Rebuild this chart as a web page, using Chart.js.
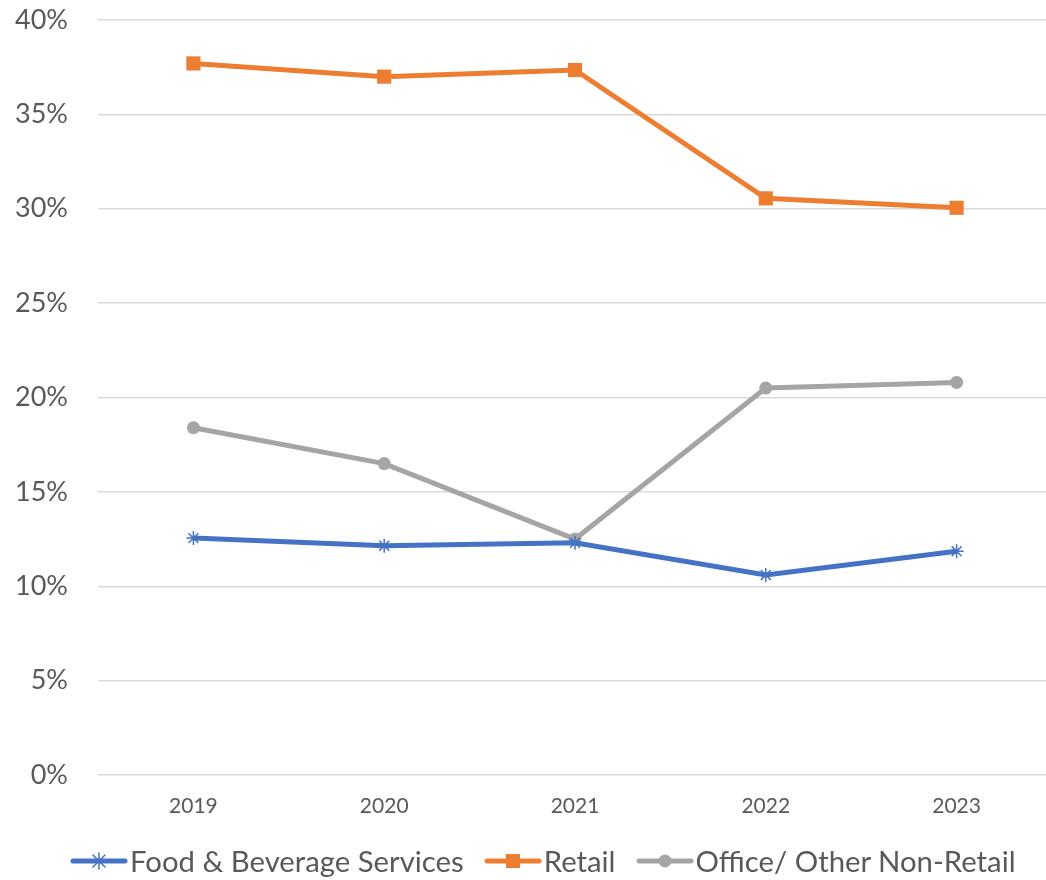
<!DOCTYPE html>
<html lang="en">
<head>
    <meta charset="UTF-8">
    <title>Share by Category</title>
    <script src="https://cdn.jsdelivr.net/npm/chart.js"></script>
    <style>
        html, body {
            margin: 0;
            padding: 0;
            overflow: hidden;
            background: #fff;
        }

        .chart-container {
            position: relative;
            width: 1062px;
            height: 880px;
        }

        .legend {
            position: absolute;
            left: 70px;
            top: 843px;
            display: flex;
            align-items: center;
            font-family: Lato, "Open Sans", sans-serif;
            font-size: 29.3px;
            color: #595959;
            white-space: nowrap;
        }

        .legend span.item {
            display: flex;
            align-items: center;
            margin-right: 20px;
        }

        .legend canvas {
            margin-right: 2px;
        }
    </style>
</head>
<body>
    <div class="chart-container">
        <canvas id="shareChart"></canvas>
        <div class="legend" id="legend"></div>
    </div>

    <script>
        const years = ['2019', '2020', '2021', '2022', '2023'];
        const foodBeverage = [12.55, 12.15, 12.3, 10.6, 11.85];
        const retail = [37.7, 37.0, 37.35, 30.55, 30.05];
        const officeOther = [18.4, 16.5, 12.5, 20.5, 20.8];
        const yTicks = [0, 5, 10, 15, 20, 25, 30, 35, 40];

        const textColor = '#595959';
        const fontFamily = 'Lato, "Open Sans", sans-serif';

        // little "line + marker" pictures for the legend
        function legendIcon(color, marker) {
            const c = document.createElement('canvas');
            c.width = 58;
            c.height = 20;
            const g = c.getContext('2d');
            g.strokeStyle = color;
            g.fillStyle = color;
            g.lineWidth = 5;
            g.lineCap = 'round';
            g.beginPath();
            g.moveTo(3, 10);
            g.lineTo(55, 10);
            g.stroke();
            if (marker === 'rect') {
                g.fillRect(22, 3, 14, 14);
            } else if (marker === 'circle') {
                g.beginPath();
                g.arc(29, 10, 6.5, 0, Math.PI * 2);
                g.fill();
            } else {
                g.lineWidth = 1.5;
                g.beginPath();
                g.moveTo(23, 4); g.lineTo(35, 16);
                g.moveTo(35, 4); g.lineTo(23, 16);
                g.moveTo(29, 2); g.lineTo(29, 18);
                g.stroke();
            }
            return c;
        }

        const chart = new Chart(document.getElementById('shareChart'), {
            type: 'line',
            data: {
                labels: years,
                datasets: [{
                    label: 'Food & Beverage Services',
                    data: foodBeverage,
                    borderColor: '#4472C4',
                    backgroundColor: '#4472C4',
                    borderWidth: 5,
                    pointStyle: 'star',
                    pointRadius: 7,
                    pointBorderWidth: 1.5,
                    marker: 'star'
                }, {
                    label: 'Retail',
                    data: retail,
                    borderColor: '#ED7D31',
                    backgroundColor: '#ED7D31',
                    borderWidth: 5,
                    pointStyle: 'rect',
                    pointRadius: 10,
                    pointBorderWidth: 0,
                    marker: 'rect'
                }, {
                    label: 'Office/ Other Non-Retail',
                    data: officeOther,
                    borderColor: '#A5A5A5',
                    backgroundColor: '#A5A5A5',
                    borderWidth: 5,
                    pointStyle: 'circle',
                    pointRadius: 6.5,
                    pointBorderWidth: 0,
                    marker: 'circle'
                }]
            },
            options: {
                responsive: true,
                maintainAspectRatio: false,
                animation: false,
                layout: {
                    padding: { top: 20, right: 0, bottom: 45, left: 0 }
                },
                plugins: {
                    tooltip: { enabled: false },
                    legend: { display: false }
                },
                scales: {
                    x: {
                        offset: true,
                        grid: { display: false, drawTicks: false },
                        border: { display: false },
                        ticks: {
                            padding: 19,
                            color: textColor,
                            font: { family: fontFamily, size: 21 }
                        },
                        afterFit(scale) {
                            scale.height = 60;
                            scale.paddingLeft = 0;
                            scale.paddingRight = 0;
                        }
                    },
                    y: {
                        min: 0,
                        max: 40,
                        grid: { color: '#D9D9D9', lineWidth: 1.5, drawTicks: false },
                        border: { display: false },
                        afterBuildTicks(scale) {
                            scale.ticks = yTicks.map(v => ({ value: v }));
                        },
                        ticks: {
                            padding: 30,
                            color: textColor,
                            font: { family: fontFamily, size: 27 },
                            callback: v => v + '%'
                        },
                        afterFit(scale) {
                            scale.width = 98;
                            scale.paddingTop = 0;
                            scale.paddingBottom = 0;
                        }
                    }
                }
            }
        });

        // legend below the chart, built from the datasets
        const legendEl = document.getElementById('legend');
        chart.data.datasets.forEach(ds => {
            const item = document.createElement('span');
            item.className = 'item';
            item.appendChild(legendIcon(ds.borderColor, ds.marker));
            const label = document.createElement('span');
            label.textContent = ds.label;
            item.appendChild(label);
            legendEl.appendChild(item);
        });
    </script>
</body>
</html>
